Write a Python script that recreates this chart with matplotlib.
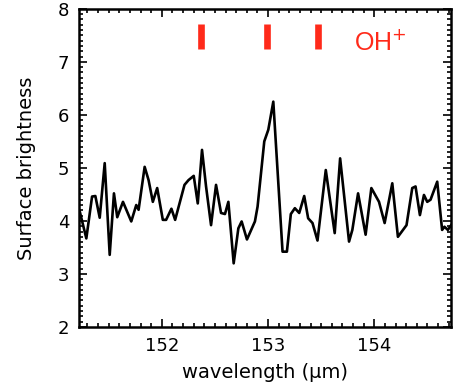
import matplotlib
matplotlib.use("Agg")
import matplotlib.pyplot as plt
from matplotlib.ticker import MultipleLocator

plt.rcParams["font.family"] = ["DejaVu Sans"]

# spectrum
wavelength = [
    151.227, 151.289, 151.343, 151.374, 151.415, 151.462, 151.509, 151.549,
    151.580, 151.634, 151.712, 151.759, 151.781, 151.838, 151.875, 151.915,
    151.956, 152.009, 152.040, 152.090, 152.125, 152.213, 152.251, 152.300,
    152.338, 152.378, 152.416, 152.463, 152.510, 152.557, 152.594, 152.626,
    152.676, 152.720, 152.751, 152.801, 152.876, 152.901, 152.964, 153.002,
    153.049, 153.136, 153.177, 153.214, 153.252, 153.293, 153.340, 153.377,
    153.418, 153.465, 153.543, 153.627, 153.678, 153.762, 153.793, 153.847,
    153.918, 153.972, 154.044, 154.097, 154.169, 154.222, 154.303, 154.357,
    154.388, 154.429, 154.467, 154.498, 154.529, 154.592, 154.638, 154.660,
    154.692, 154.723,
]
brightness = [
    4.18, 3.67, 4.46, 4.47, 4.06, 5.09, 3.36, 4.52,
    4.07, 4.36, 3.99, 4.30, 4.21, 5.02, 4.77, 4.36,
    4.62, 4.02, 4.02, 4.23, 4.02, 4.68, 4.77, 4.85,
    4.33, 5.34, 4.65, 3.92, 4.68, 4.15, 4.13, 4.36,
    3.20, 3.86, 3.99, 3.65, 3.99, 4.27, 5.50, 5.72,
    6.25, 3.42, 3.42, 4.13, 4.24, 4.15, 4.47, 4.05,
    3.96, 3.63, 4.96, 3.77, 5.18, 3.61, 3.83, 4.52,
    3.74, 4.62, 4.36, 3.96, 4.71, 3.70, 3.92, 4.62,
    4.65, 4.11, 4.49, 4.36, 4.40, 4.74, 3.83, 3.89,
    3.83, 3.92,
]

# OH+ line positions
oh_lines = [152.37, 152.99, 153.47]


def main():
    fig = plt.figure(figsize=(4.54, 3.86), dpi=100)
    ax = fig.add_axes([0.174, 0.153, 0.819, 0.824])

    ax.plot(wavelength, brightness, color="black", linewidth=1.9)
    ax.vlines(oh_lines, 7.25, 7.72, color="#ff2a1a", linewidth=4.8)
    ax.text(153.81, 7.23, "OH$^{+}$", color="#ff2a1a", fontsize=18,
            family="Liberation Sans", va="baseline", ha="left")

    ax.set_xlim(151.22, 154.72)
    ax.set_ylim(2, 8)
    ax.xaxis.set_major_locator(MultipleLocator(1))
    ax.xaxis.set_minor_locator(MultipleLocator(0.1))
    ax.yaxis.set_major_locator(MultipleLocator(1))
    ax.yaxis.set_minor_locator(MultipleLocator(0.1))
    ax.tick_params(which="both", direction="in", top=True, right=True,
                   width=1.2, labelsize=13)
    ax.tick_params(which="major", length=6, pad=7)
    ax.tick_params(which="minor", length=3)
    for s in ax.spines.values():
        s.set_linewidth(1.8)

    ax.set_xlabel("wavelength (μm)", fontsize=14, labelpad=6)
    ax.set_ylabel("Surface brightness", fontsize=14, labelpad=16)

    fig.savefig("out.png", dpi=100)


if __name__ == "__main__":
    main()
